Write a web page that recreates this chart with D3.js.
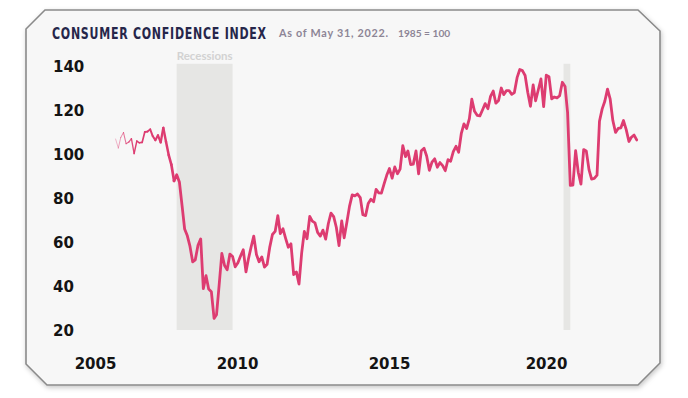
<!DOCTYPE html>
<html>
<head>
<meta charset="utf-8">
<script src="https://cdn.jsdelivr.net/npm/d3@7/dist/d3.min.js"></script>
<style>
  html, body { margin: 0; padding: 0; background: #ffffff; }
  svg { display: block; }
</style>
</head>
<body>
<svg width="688" height="398"></svg>
<script>
// monthly index values, Jan 2006 .. May 2022 (1985 = 100)
var firstMonth = "2006-01";
var cci = [
  106.8, 102.7, 107.5, 109.8, 104.7, 105.4, 107.0, 100.2, 105.9, 105.1, 105.3, 110.0,
  110.2, 111.2, 108.2, 106.3, 108.5, 105.3, 111.9, 105.6, 99.5, 95.2, 87.8, 90.6,
  87.3, 76.4, 65.9, 62.8, 58.1, 51.0, 51.9, 58.5, 61.4, 38.8, 44.7, 38.6,
  37.4, 25.3, 26.9, 40.8, 54.8, 49.3, 47.4, 54.5, 53.4, 48.7, 50.6, 53.6,
  56.5, 46.4, 52.3, 57.7, 62.7, 54.3, 51.0, 53.2, 48.6, 49.9, 57.8, 63.4,
  64.8, 72.0, 63.8, 66.0, 61.7, 57.6, 59.2, 45.2, 46.4, 40.9, 55.2, 64.8,
  61.5, 71.6, 69.5, 68.7, 64.4, 62.7, 65.4, 61.3, 68.4, 73.1, 71.5, 66.7,
  58.4, 69.6, 61.9, 69.0, 76.2, 81.4, 81.0, 81.8, 80.2, 72.4, 72.0, 77.5,
  79.4, 78.3, 83.9, 82.3, 82.2, 86.4, 90.3, 93.4, 89.0, 94.1, 91.0, 93.1,
  103.8, 98.8, 101.4, 95.2, 95.4, 101.4, 91.0, 101.5, 102.6, 99.1, 92.6, 96.3,
  97.8, 94.0, 96.1, 94.7, 92.4, 97.4, 96.7, 101.1, 103.5, 100.8, 109.4, 113.7,
  111.6, 116.1, 124.9, 119.4, 117.6, 117.3, 120.0, 122.9, 120.6, 126.2, 128.6, 123.1,
  124.3, 130.0, 127.0, 128.8, 128.8, 127.1, 127.9, 134.7, 138.4, 137.9, 135.7, 128.1,
  121.7, 131.4, 124.2, 129.2, 134.1, 121.5, 135.8, 135.1, 125.1, 125.9, 125.5, 126.5,
  132.6, 130.7, 118.8, 85.7, 85.9, 101.5, 91.7, 86.3, 102.0, 101.4, 92.9, 88.6,
  88.9, 90.4, 114.9, 120.5, 124.0, 129.5, 125.1, 115.2, 109.8, 111.6, 111.9, 115.2,
  111.1, 105.7, 107.6, 108.6, 106.4
];
var recessions = [["2007-12-01", "2009-09-01"], ["2020-01-15", "2020-04-01"]];
var yTicks = [20, 40, 60, 80, 100, 120, 140];
var xTickYears = [2005, 2010, 2015, 2020];
var title = "CONSUMER CONFIDENCE INDEX";
var subtitle1 = "As of May 31, 2022.";
var subtitle2 = "1985 = 100";

var parseMonth = d3.timeParse("%Y-%m");
var parseDay = d3.timeParse("%Y-%m-%d");
var start = parseMonth(firstMonth);
var data = cci.map(function (v, i) {
  return { date: d3.timeMonth.offset(start, i), value: v };
});

var svg = d3.select("svg");

// card frame with clipped corners
var defs = svg.append("defs");
var shadow = defs.append("filter").attr("id", "shadow")
  .attr("x", "-5%").attr("y", "-5%").attr("width", "110%").attr("height", "115%");
shadow.append("feDropShadow")
  .attr("dx", 1).attr("dy", 2).attr("stdDeviation", 2.5)
  .attr("flood-color", "#000").attr("flood-opacity", 0.22);

var frame = [[45, 10], [638, 10], [660, 31], [660, 363], [638, 385], [47, 385], [26, 364], [26, 29]];
svg.append("path")
  .attr("d", d3.line()(frame) + "Z")
  .attr("fill", "#f7f7f7")
  .attr("stroke", "#8a8a8a")
  .attr("stroke-width", 1.6)
  .attr("filter", "url(#shadow)");

var x = d3.scaleTime()
  .domain([data[0].date, data[data.length - 1].date])
  .range([115.6, 636.7]);
var y = d3.scaleLinear().domain([20, 140]).range([330, 66]);

// recession bands
svg.append("g").selectAll("rect")
  .data(recessions)
  .join("rect")
  .attr("x", function (d) { return x(parseDay(d[0])); })
  .attr("width", function (d) { return x(parseDay(d[1])) - x(parseDay(d[0])); })
  .attr("y", y(141))
  .attr("height", y(20) - y(141))
  .attr("fill", "#e6e6e4");

svg.append("text")
  .attr("x", (x(parseDay(recessions[0][0])) + x(parseDay(recessions[0][1]))) / 2)
  .attr("y", 60)
  .attr("text-anchor", "middle")
  .attr("font-family", "Lato, 'Open Sans', sans-serif")
  .attr("font-weight", 700)
  .attr("font-size", 11.5)
  .attr("fill", "#d2d2d2")
  .text("Recessions");

// y axis
var yAxis = svg.append("g")
  .attr("transform", "translate(53,0)")
  .call(d3.axisLeft(y).tickValues(yTicks).tickSize(0));
yAxis.select(".domain").remove();
yAxis.selectAll("text")
  .attr("x", 0)
  .attr("dy", "0.36em")
  .attr("text-anchor", "start")
  .attr("font-family", "'DejaVu Sans', sans-serif")
  .attr("font-weight", 700)
  .attr("font-size", 15)
  .attr("fill", "#141414");

// x axis labels (the year labels sit slightly off the data's time positions)
var xLabels = d3.scaleLinear().domain(xTickYears).range([95, 237, 389, 546]);
var xAxis = svg.append("g")
  .attr("transform", "translate(0,357)")
  .call(d3.axisBottom(xLabels).tickValues(xTickYears).tickFormat(d3.format("d")).tickSize(0));
xAxis.select(".domain").remove();
xAxis.selectAll("text")
  .attr("y", 0)
  .attr("dy", "0.78em")
  .attr("font-family", "'DejaVu Sans', sans-serif")
  .attr("font-weight", 700)
  .attr("font-size", 15)
  .attr("fill", "#141414");

// line: thin and faded at its start, full weight afterwards
var lineColor = "#dd3c71";
var ramp = 22;
var line = d3.line()
  .x(function (d) { return x(d.date); })
  .y(function (d) { return y(d.value); });

var g = svg.append("g").attr("fill", "none").attr("stroke", lineColor)
  .attr("stroke-linecap", "round").attr("stroke-linejoin", "round");
for (var i = 0; i < ramp; i++) {
  g.append("path")
    .attr("d", line(data.slice(i, i + 2)))
    .attr("stroke-width", 0.8 + i * 0.09)
    .attr("stroke-opacity", Math.min(1, 0.45 + i * 0.08));
}
g.append("path")
  .attr("d", line(data.slice(ramp)))
  .attr("stroke-width", 2.8);

// title, squeezed horizontally to the reference's width
var titleText = svg.append("text")
  .attr("font-family", "'DejaVu Sans Condensed', 'DejaVu Sans', sans-serif")
  .attr("font-stretch", "condensed")
  .attr("font-weight", 700)
  .attr("font-size", 16.5)
  .attr("letter-spacing", 1)
  .attr("fill", "#26264a")
  .text(title);
var tw = titleText.node().getComputedTextLength();
titleText.attr("transform", "translate(52,39) scale(" + (215 / tw) + ",1)");

svg.append("text")
  .attr("x", 279)
  .attr("y", 37)
  .attr("font-family", "Lato, 'Open Sans', sans-serif")
  .attr("font-weight", 700)
  .attr("font-size", 10.8)
  .attr("textLength", 109)
  .attr("lengthAdjust", "spacing")
  .attr("fill", "#8d8596")
  .text(subtitle1);

svg.append("text")
  .attr("x", 398)
  .attr("y", 37)
  .attr("font-family", "Lato, 'Open Sans', sans-serif")
  .attr("font-weight", 700)
  .attr("font-size", 10.2)
  .attr("fill", "#8d8596")
  .text(subtitle2);
</script>
</body>
</html>
